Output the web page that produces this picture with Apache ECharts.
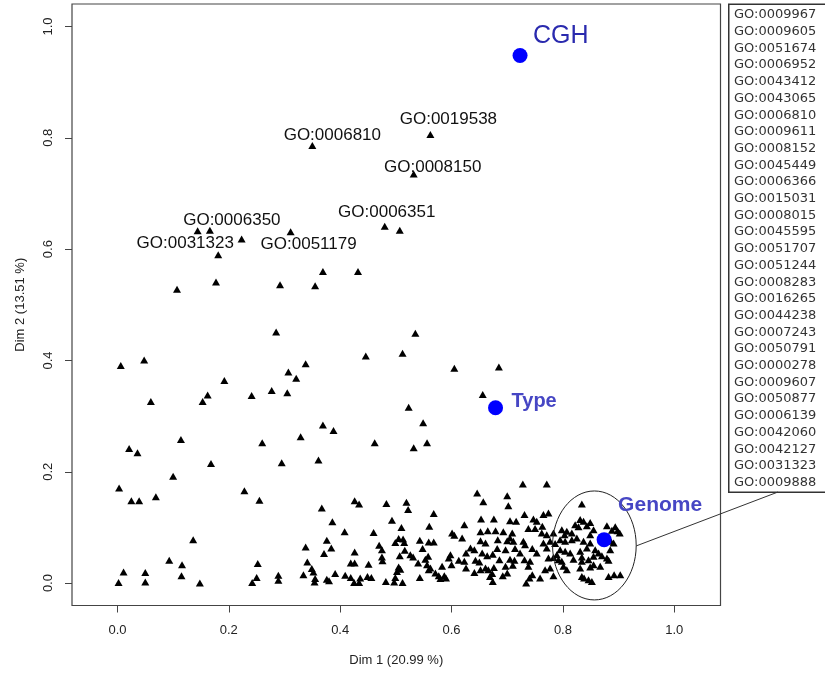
<!DOCTYPE html>
<html>
<head>
<meta charset="utf-8">
<script src="https://cdn.jsdelivr.net/npm/echarts@6/dist/echarts.min.js"></script>
<style>html,body{margin:0;padding:0;background:#fff}#c{width:825px;height:679px}</style>
</head>
<body>
<div id="c"></div>
<script>
// ---- data ----
const xTickValues = [0, 0.2, 0.4, 0.6, 0.8, 1.0];
const yTickValues = [0, 0.2, 0.4, 0.6, 0.8, 1.0];
const xTitle = 'Dim 1 (20.99 %)';
const yTitle = 'Dim 2 (13.51 %)';

// unlabeled GO terms (Dim1, Dim2)
const goPoints = [
[0.507,0.634],[0.144,0.633],[0.223,0.618],[0.107,0.528],[0.177,0.541],[0.292,0.536],[0.355,0.534],[0.369,0.560],[0.432,0.560],
[0.285,0.451],[0.535,0.449],[0.006,0.391],[0.048,0.401],[0.446,0.408],[0.512,0.413],[0.338,0.394],[0.307,0.379],[0.321,0.368],
[0.192,0.364],[0.277,0.346],[0.305,0.342],[0.241,0.337],[0.162,0.338],[0.153,0.326],[0.060,0.326],[0.523,0.316],[0.369,0.284],
[0.388,0.274],[0.329,0.263],[0.114,0.258],[0.260,0.252],[0.462,0.252],[0.532,0.243],[0.021,0.242],[0.036,0.234],[0.361,0.221],
[0.168,0.215],[0.295,0.216],[0.100,0.192],[0.003,0.171],[0.228,0.166],[0.069,0.155],[0.025,0.148],[0.039,0.148],[0.255,0.149],
[0.605,0.386],[0.685,0.388],[0.656,0.339],[0.549,0.288],[0.556,0.252],
[0.136,0.078],[0.093,0.041],[0.116,0.033],[0.252,0.035],[0.011,0.020],[0.050,0.019],[0.115,0.013],[0.250,0.010],[0.289,0.014],
[0.289,0.005],[0.002,0.001],[0.050,0.002],[0.148,0.000],[0.242,0.001],
[0.367,0.135],[0.426,0.148],[0.434,0.142],[0.483,0.143],[0.519,0.145],[0.522,0.132],[0.386,0.110],[0.493,0.113],[0.510,0.100],
[0.408,0.092],[0.460,0.091],[0.376,0.077],[0.505,0.080],[0.513,0.079],[0.515,0.073],[0.499,0.073],[0.543,0.077],[0.338,0.065],
[0.470,0.068],[0.475,0.060],[0.384,0.063],[0.371,0.053],[0.426,0.056],[0.516,0.059],[0.526,0.051],[0.507,0.049],[0.531,0.047],
[0.475,0.047],[0.476,0.040],[0.341,0.038],[0.426,0.036],[0.419,0.036],[0.451,0.034],[0.540,0.036],[0.349,0.026],[0.352,0.020],
[0.505,0.029],[0.508,0.025],[0.502,0.021],[0.391,0.017],[0.334,0.015],[0.409,0.014],[0.419,0.010],[0.436,0.009],[0.449,0.012],
[0.456,0.010],[0.355,0.008],[0.354,0.002],[0.376,0.007],[0.380,0.004],[0.499,0.010],[0.497,0.002],[0.543,0.010],[0.425,0.001],
[0.434,0.001],[0.482,0.003],[0.512,0.001],
[0.728,0.178],[0.771,0.178],[0.646,0.162],[0.700,0.157],[0.657,0.146],[0.702,0.139],[0.568,0.125],[0.731,0.123],[0.765,0.123],
[0.560,0.102],[0.623,0.105],[0.653,0.115],[0.676,0.115],[0.705,0.112],[0.716,0.111],[0.747,0.115],[0.753,0.111],[0.738,0.098],
[0.750,0.098],[0.763,0.102],[0.601,0.090],[0.605,0.086],[0.619,0.081],[0.652,0.092],[0.665,0.094],[0.679,0.094],[0.693,0.092],
[0.709,0.090],[0.705,0.081],[0.711,0.075],[0.729,0.075],[0.732,0.069],[0.559,0.074],[0.568,0.074],[0.652,0.076],[0.661,0.072],
[0.683,0.078],[0.700,0.076],[0.634,0.063],[0.641,0.060],[0.626,0.054],[0.548,0.062],[0.682,0.062],[0.697,0.060],[0.714,0.062],
[0.723,0.054],[0.745,0.062],[0.753,0.054],[0.655,0.054],[0.664,0.049],[0.674,0.052],[0.598,0.051],[0.595,0.045],[0.558,0.048],
[0.553,0.043],[0.613,0.041],[0.623,0.039],[0.643,0.041],[0.650,0.038],[0.686,0.042],[0.705,0.043],[0.713,0.041],[0.731,0.042],
[0.741,0.039],[0.556,0.033],[0.562,0.027],[0.559,0.024],[0.583,0.030],[0.600,0.033],[0.626,0.027],[0.661,0.027],[0.666,0.024],
[0.676,0.028],[0.697,0.030],[0.710,0.032],[0.738,0.030],[0.571,0.018],[0.577,0.013],[0.587,0.013],[0.641,0.019],[0.652,0.024],
[0.673,0.017],[0.669,0.012],[0.674,0.003],[0.692,0.013],[0.700,0.018],[0.745,0.015],[0.740,0.009],[0.580,0.008],[0.590,0.009],
[0.734,0.000],
[0.834,0.142],[0.774,0.126],[0.831,0.114],[0.837,0.111],[0.849,0.109],[0.843,0.103],[0.822,0.105],[0.828,0.101],[0.879,0.103],
[0.894,0.101],[0.898,0.094],[0.888,0.095],[0.855,0.096],[0.849,0.087],[0.762,0.090],[0.771,0.087],[0.783,0.090],[0.798,0.096],
[0.807,0.093],[0.803,0.087],[0.816,0.090],[0.795,0.078],[0.804,0.075],[0.816,0.078],[0.825,0.081],[0.777,0.075],[0.786,0.071],
[0.765,0.072],[0.771,0.063],[0.837,0.075],[0.849,0.072],[0.843,0.063],[0.891,0.072],[0.885,0.060],[0.795,0.060],[0.804,0.057],
[0.789,0.051],[0.813,0.054],[0.831,0.057],[0.834,0.047],[0.858,0.060],[0.864,0.054],[0.855,0.048],[0.870,0.049],[0.879,0.045],
[0.882,0.041],[0.783,0.046],[0.792,0.042],[0.798,0.039],[0.774,0.045],[0.819,0.043],[0.834,0.039],[0.846,0.042],[0.855,0.033],
[0.867,0.030],[0.849,0.029],[0.801,0.030],[0.807,0.024],[0.768,0.024],[0.777,0.027],[0.831,0.027],[0.882,0.012],[0.892,0.015],
[0.903,0.015],[0.834,0.012],[0.838,0.009],[0.846,0.006],[0.852,0.003],[0.783,0.013],[0.759,0.009],[0.886,0.075],[0.902,0.090]
];

// labelled GO terms
const labelNames = ['GO:0006810','GO:0019538','GO:0008150','GO:0006351','GO:0006350','GO:0031323','GO:0051179'];
const labelX = [0.350, 0.562, 0.532, 0.480, 0.166, 0.181, 0.311];
const labelY = [0.786, 0.806, 0.735, 0.641, 0.634, 0.590, 0.631];

// supplementary variables
const supNames = ['CGH', 'Type', 'Genome'];
const supX = [0.723, 0.679, 0.874];
const supY = [0.948, 0.315, 0.078];

// ellipse around Genome cluster: centre x, centre y, radius x, radius y
const ellipseData = [[0.8565, 0.0676, 0.0751, 0.0979]];

// GO list in the side box
const boxList = ['GO:0009967','GO:0009605','GO:0051674','GO:0006952','GO:0043412','GO:0043065','GO:0006810',
'GO:0009611','GO:0008152','GO:0045449','GO:0006366','GO:0015031','GO:0008015','GO:0045595','GO:0051707',
'GO:0051244','GO:0008283','GO:0016265','GO:0044238','GO:0007243','GO:0050791','GO:0000278','GO:0009607',
'GO:0050877','GO:0006139','GO:0042060','GO:0042127','GO:0031323','GO:0009888'];

// ---- styles ----
const labelOffsets = [[20,-10],[18,-15],[19,-7],[2,-14],[22,-10],[-33,-11],[18,12]];
const supOffsets = [[13,-19],[16,-6],[14,-34]];
const supStyles = [
  {fontSize: 25, fontWeight: 'normal', color: '#2a2aae'},
  {fontSize: 20, fontWeight: 'bold', color: '#4646c4'},
  {fontSize: 21, fontWeight: 'bold', color: '#4646c4'}
];
const FONT = '"Liberation Sans", Arial, Helvetica, sans-serif';

const chart = echarts.init(document.getElementById('c'), null, {renderer: 'canvas'});

const graphics = [
  {type: 'rect', left: 728, top: 3.5, z: 10,
   shape: {width: 120, height: 488},
   style: {fill: '#fff', stroke: '#333', lineWidth: 1.5}},
  {type: 'line', z: 10,
   shape: {x1: 636, y1: 546, x2: 778, y2: 492},
   style: {stroke: '#333', lineWidth: 1}}
];
boxList.forEach((t, i) => {
  graphics.push({type: 'text', z: 11, x: 734, y: 15 + i * 16.7,
    style: {text: t, font: '13px "DejaVu Sans", Verdana, sans-serif', fill: '#333', textVerticalAlign: 'middle', verticalAlign: 'middle'}});
});

chart.setOption({
  animation: false,
  backgroundColor: '#fff',
  grid: {left: 72, right: 104.5, top: 4, bottom: 73.5, show: true, borderColor: '#444', borderWidth: 1.2, backgroundColor: 'transparent', containLabel: false, outerBoundsMode: 'none'},
  xAxis: {
    type: 'value', min: -0.0816, max: 1.083,
    axisLine: {show: false, onZero: false}, splitLine: {show: false},
    axisTick: {show: true, inside: false, length: 7, customValues: xTickValues, lineStyle: {color: '#444', width: 1}},
    axisLabel: {customValues: xTickValues, formatter: v => v.toFixed(1), margin: 18, fontSize: 13, color: '#222', fontFamily: FONT},
    name: xTitle, nameLocation: 'middle', nameGap: 48,
    nameTextStyle: {fontSize: 13, color: '#222', fontFamily: FONT}
  },
  yAxis: {
    type: 'value', min: -0.0403, max: 1.0404,
    axisLine: {show: false, onZero: false}, splitLine: {show: false},
    axisTick: {show: true, inside: false, length: 7, customValues: yTickValues, lineStyle: {color: '#444', width: 1}},
    axisLabel: {customValues: yTickValues, formatter: v => v.toFixed(1), rotate: 90, margin: 17, fontSize: 13, color: '#222', fontFamily: FONT},
    name: yTitle, nameLocation: 'middle', nameGap: 45, nameRotate: 90,
    nameTextStyle: {fontSize: 13, color: '#222', fontFamily: FONT}
  },
  graphic: graphics,
  series: [
    {
      type: 'scatter', name: 'GO', symbol: 'triangle', symbolSize: [8, 7],
      itemStyle: {color: '#000', opacity: 1}, data: goPoints, silent: true, z: 2
    },
    {
      type: 'scatter', name: 'GO labelled', symbol: 'triangle', symbolSize: [8, 7],
      itemStyle: {color: '#000', opacity: 1}, silent: true, z: 2,
      data: labelNames.map((n, i) => ({
        name: n, value: [labelX[i], labelY[i]],
        label: {show: true, formatter: '{b}', position: 'inside', offset: labelOffsets[i],
          fontSize: 17, color: '#111', fontFamily: FONT, align: 'center', verticalAlign: 'middle'}
      }))
    },
    {
      type: 'custom', name: 'ellipse', silent: true, z: 3,
      renderItem: (params, api) => {
        const c = api.coord([api.value(0), api.value(1)]);
        const s = api.size([api.value(2), api.value(3)]);
        return {type: 'ellipse', shape: {cx: c[0], cy: c[1], rx: s[0], ry: s[1]},
                style: {fill: 'none', stroke: '#222', lineWidth: 1}};
      },
      data: ellipseData
    },
    {
      type: 'scatter', name: 'sup', symbol: 'circle', symbolSize: 15, silent: true, z: 4,
      itemStyle: {color: '#0000ff', opacity: 1},
      data: supNames.map((n, i) => ({
        name: n, value: [supX[i], supY[i]],
        label: Object.assign({show: true, formatter: '{b}', position: 'inside', offset: supOffsets[i],
          align: 'left', verticalAlign: 'middle', fontFamily: FONT}, supStyles[i])
      }))
    }
  ]
});
</script>
</body>
</html>
